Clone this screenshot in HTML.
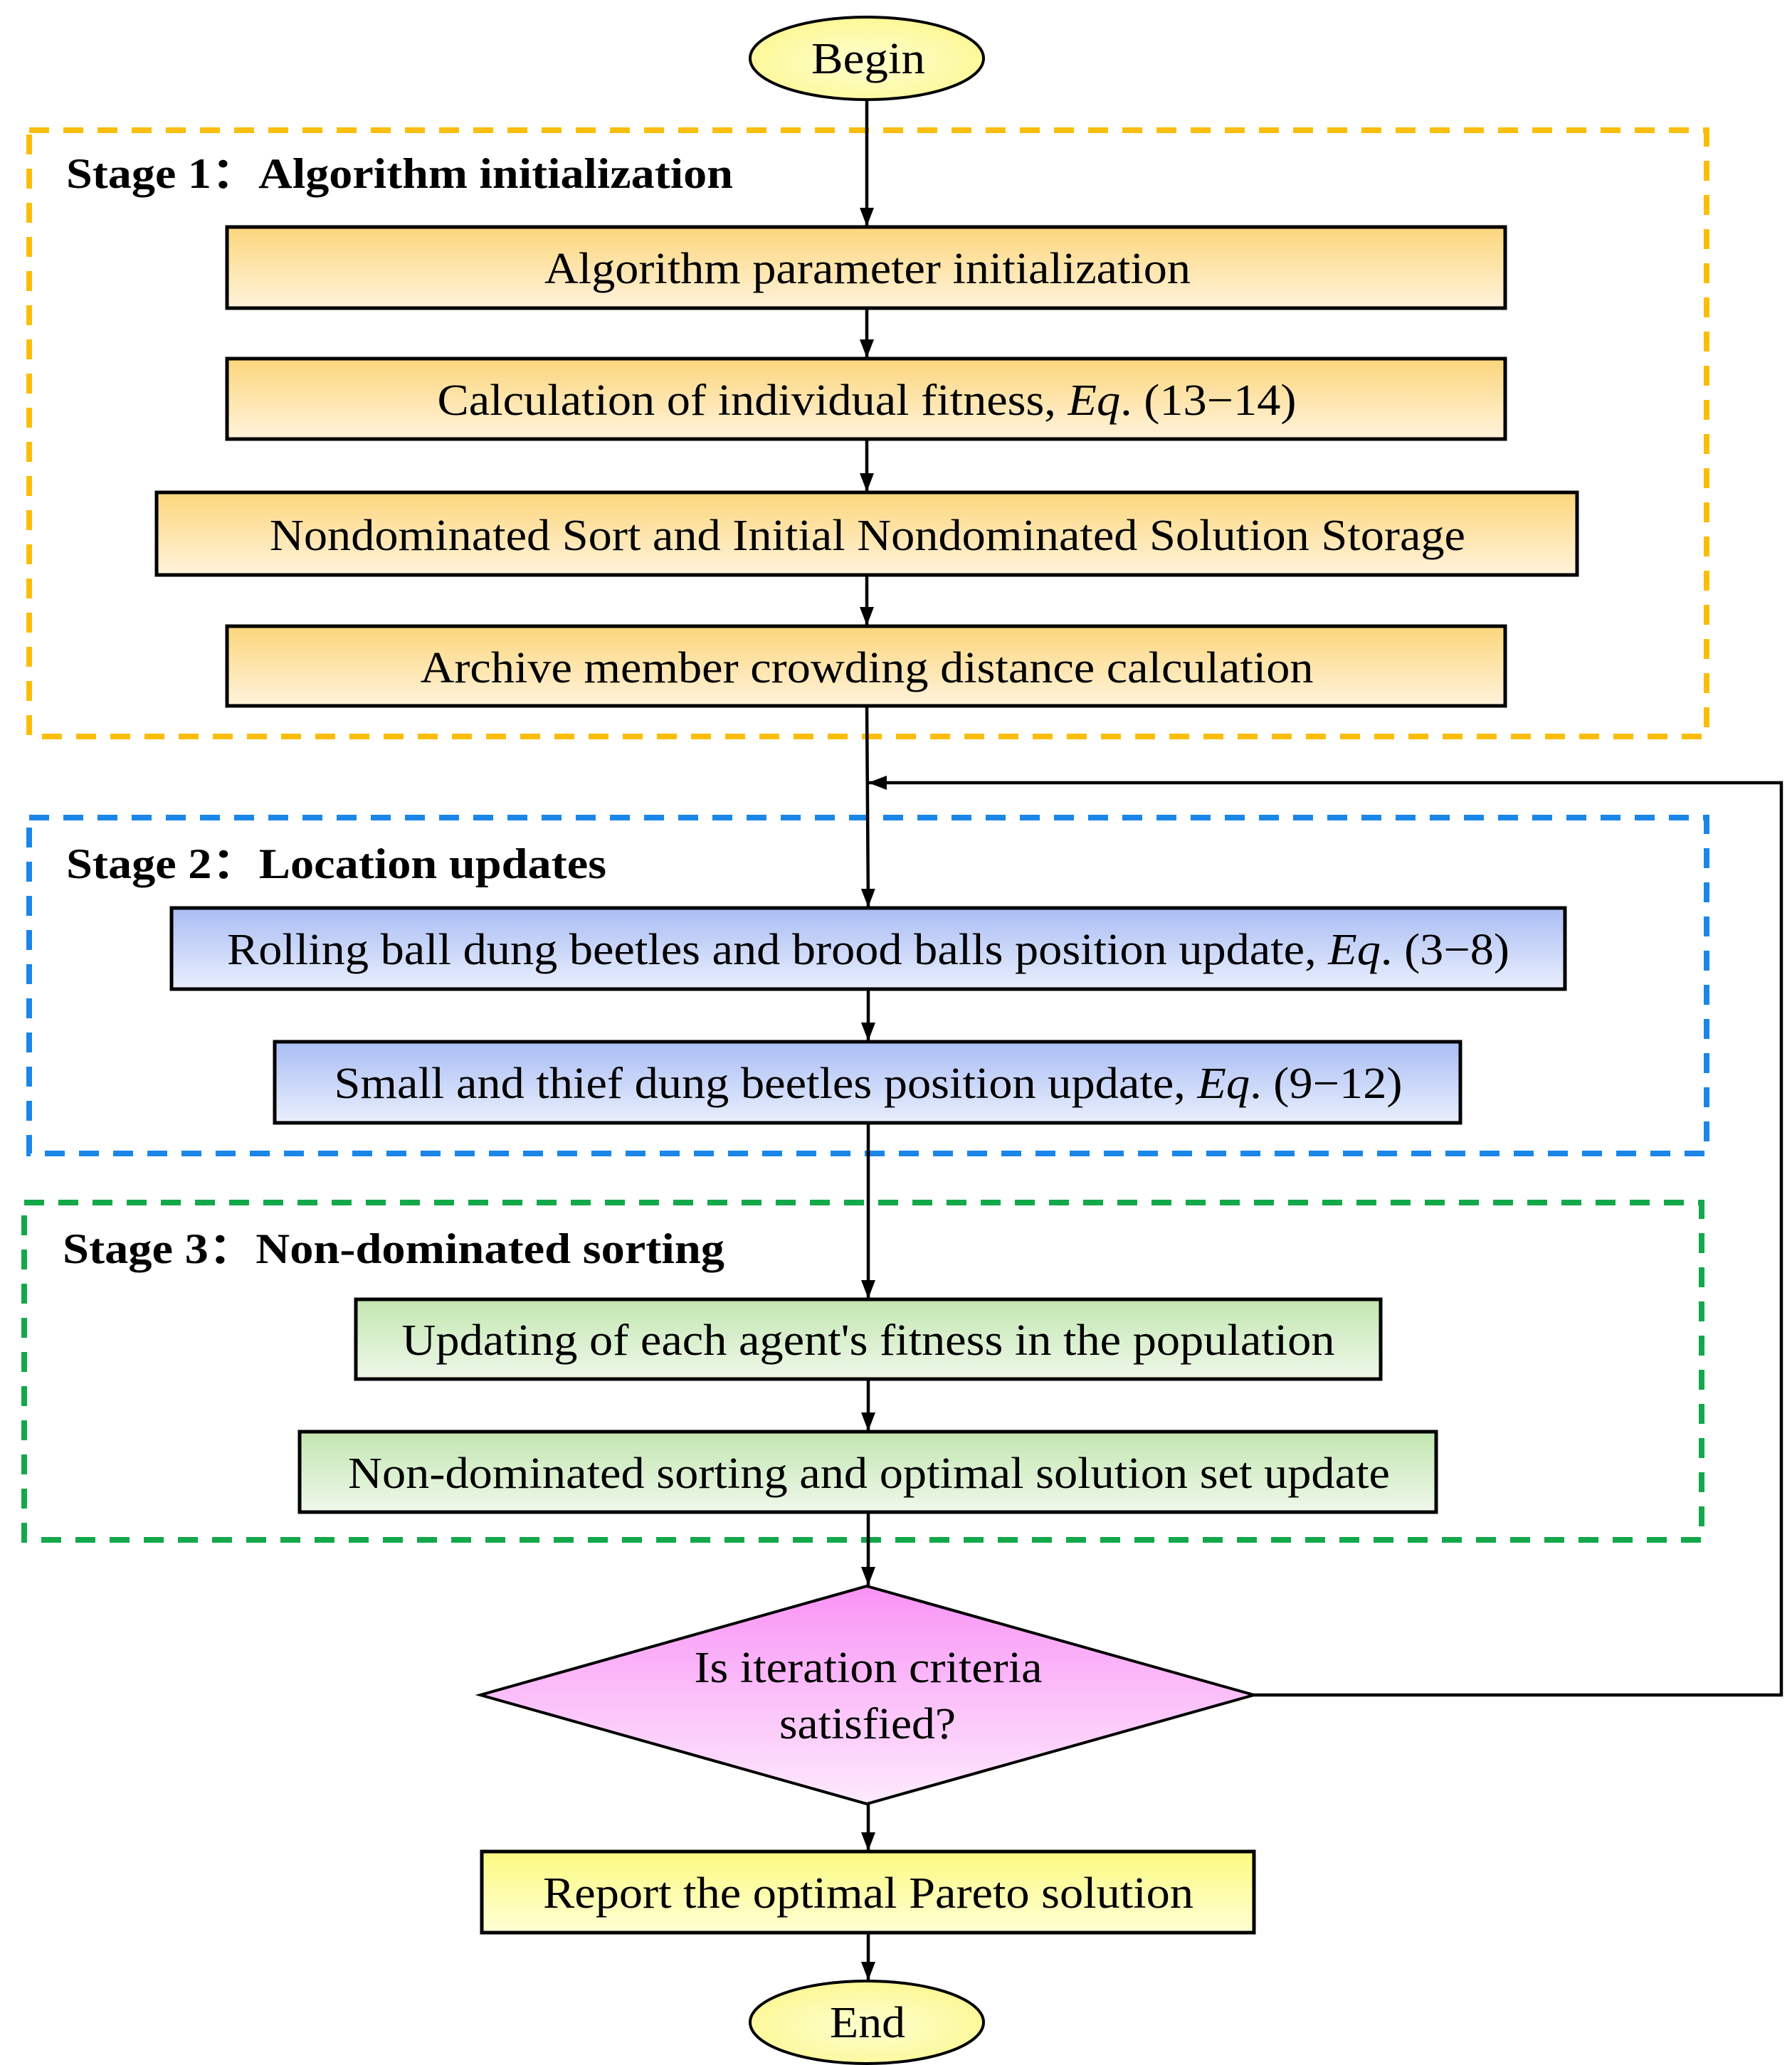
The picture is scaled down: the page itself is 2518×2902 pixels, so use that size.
<!DOCTYPE html>
<html><head><meta charset="utf-8"><style>
html,body{margin:0;padding:0;background:#fff;}
svg{display:block;}
text{font-family:"Liberation Serif",serif;fill:#000;}
</style></head><body>
<svg width="2518" height="2902" viewBox="0 0 2518 2902" xmlns="http://www.w3.org/2000/svg">
<defs>
<linearGradient id="gy" x1="0" y1="0" x2="0" y2="1"><stop offset="0" stop-color="#fcd67c"/><stop offset="1" stop-color="#fff3dc"/></linearGradient>
<linearGradient id="gb" x1="0" y1="0" x2="0" y2="1"><stop offset="0" stop-color="#aabdf4"/><stop offset="1" stop-color="#e9effd"/></linearGradient>
<linearGradient id="gg" x1="0" y1="0" x2="0" y2="1"><stop offset="0" stop-color="#c2e6b0"/><stop offset="1" stop-color="#eff8ea"/></linearGradient>
<linearGradient id="gp" x1="0" y1="0" x2="0" y2="1"><stop offset="0" stop-color="#f993f5"/><stop offset="1" stop-color="#fdeafd"/></linearGradient>
<linearGradient id="gl" x1="0" y1="0" x2="0" y2="1"><stop offset="0" stop-color="#fcfa80"/><stop offset="1" stop-color="#ffffd6"/></linearGradient>
<radialGradient id="ge" cx="0.5" cy="0.55" r="0.6"><stop offset="0" stop-color="#ffffd0"/><stop offset="1" stop-color="#fbf790"/></radialGradient>
<marker id="ar" markerWidth="26" markerHeight="20" refX="26" refY="10" orient="auto" markerUnits="userSpaceOnUse" viewBox="0 0 26 20"><path d="M0,0 L26,10 L0,20 z" fill="#000"/></marker>
</defs>
<style>
.ln{stroke:#000;stroke-width:4.5;fill:none;}
</style>

<rect x="41" y="183" width="2357" height="852" fill="none" stroke="#fbbd0b" stroke-width="8" stroke-dasharray="28 20"/>
<rect x="41" y="1149" width="2357" height="472" fill="none" stroke="#1a86e8" stroke-width="8" stroke-dasharray="28 20"/>
<rect x="34" y="1690" width="2357" height="474" fill="none" stroke="#13a84a" stroke-width="8" stroke-dasharray="28 20"/>

<text x="93" y="264" font-size="60" font-weight="bold" textLength="937" lengthAdjust="spacingAndGlyphs">Stage 1：Algorithm initialization</text>
<text x="93" y="1234" font-size="60" font-weight="bold" textLength="759" lengthAdjust="spacingAndGlyphs">Stage 2：Location updates</text>
<text x="88" y="1775" font-size="60" font-weight="bold" textLength="930" lengthAdjust="spacingAndGlyphs">Stage 3：Non-dominated sorting</text>

<g marker-end="url(#ar)">
<line class="ln" x1="1218" y1="140" x2="1218" y2="318"/>
<line class="ln" x1="1218" y1="433" x2="1218" y2="503"/>
<line class="ln" x1="1218" y1="617" x2="1218" y2="691"/>
<line class="ln" x1="1218" y1="808" x2="1218" y2="879"/>
<line class="ln" x1="1218" y1="992" x2="1220" y2="1275"/>
<line class="ln" x1="1220" y1="1390" x2="1220" y2="1463"/>
<line class="ln" x1="1220" y1="1578" x2="1220" y2="1825"/>
<line class="ln" x1="1220" y1="1938" x2="1220" y2="2011"/>
<line class="ln" x1="1220" y1="2125" x2="1220" y2="2228"/>
<line class="ln" x1="1220" y1="2535" x2="1220" y2="2601"/>
<line class="ln" x1="1220" y1="2716" x2="1220" y2="2783"/>
<polyline class="ln" points="1762,2382 2503,2382 2503,1100 1220,1100"/>
</g>

<ellipse cx="1218" cy="82" rx="164" ry="58" fill="url(#ge)" stroke="#000" stroke-width="4"/>
<text x="1220" y="103" font-size="62" text-anchor="middle" textLength="160" lengthAdjust="spacingAndGlyphs">Begin</text>

<rect x="319" y="319" width="1796" height="114" fill="url(#gy)" stroke="#000" stroke-width="5"/>
<text x="1219" y="398" font-size="62" text-anchor="middle" textLength="908" lengthAdjust="spacingAndGlyphs">Algorithm parameter initialization</text>
<rect x="319" y="504" width="1796" height="113" fill="url(#gy)" stroke="#000" stroke-width="5"/>
<text x="1218" y="583" font-size="62" text-anchor="middle" textLength="1207" lengthAdjust="spacingAndGlyphs">Calculation of individual fitness, <tspan font-style="italic">Eq</tspan>. (13−14)</text>
<rect x="220" y="692" width="1996" height="116" fill="url(#gy)" stroke="#000" stroke-width="5"/>
<text x="1219" y="773" font-size="62" text-anchor="middle" textLength="1680" lengthAdjust="spacingAndGlyphs">Nondominated Sort and Initial Nondominated Solution Storage</text>
<rect x="319" y="880" width="1796" height="112" fill="url(#gy)" stroke="#000" stroke-width="5"/>
<text x="1218" y="959" font-size="62" text-anchor="middle" textLength="1255" lengthAdjust="spacingAndGlyphs">Archive member crowding distance calculation</text>

<rect x="241" y="1276" width="1958" height="114" fill="url(#gb)" stroke="#000" stroke-width="5"/>
<text x="1220" y="1355" font-size="62" text-anchor="middle" textLength="1802" lengthAdjust="spacingAndGlyphs">Rolling ball dung beetles and brood balls position update, <tspan font-style="italic">Eq</tspan>. (3−8)</text>
<rect x="386" y="1464" width="1666" height="114" fill="url(#gb)" stroke="#000" stroke-width="5"/>
<text x="1220" y="1543" font-size="62" text-anchor="middle" textLength="1501" lengthAdjust="spacingAndGlyphs">Small and thief dung beetles position update, <tspan font-style="italic">Eq</tspan>. (9−12)</text>

<rect x="500" y="1826" width="1440" height="112" fill="url(#gg)" stroke="#000" stroke-width="5"/>
<text x="1220" y="1904" font-size="62" text-anchor="middle" textLength="1311" lengthAdjust="spacingAndGlyphs">Updating of each agent's fitness in the population</text>
<rect x="421" y="2012" width="1597" height="113" fill="url(#gg)" stroke="#000" stroke-width="5"/>
<text x="1221" y="2091" font-size="62" text-anchor="middle" textLength="1464" lengthAdjust="spacingAndGlyphs">Non-dominated sorting and optimal solution set update</text>

<polygon points="1218,2229 1762,2382 1218,2535 675,2382" fill="url(#gp)" stroke="#000" stroke-width="4"/>
<text x="1220" y="2364" font-size="62" text-anchor="middle" textLength="489" lengthAdjust="spacingAndGlyphs">Is iteration criteria</text>
<text x="1219" y="2443" font-size="62" text-anchor="middle" textLength="248" lengthAdjust="spacingAndGlyphs">satisfied?</text>

<rect x="677" y="2602" width="1085" height="114" fill="url(#gl)" stroke="#000" stroke-width="5"/>
<text x="1220" y="2681" font-size="62" text-anchor="middle" textLength="914" lengthAdjust="spacingAndGlyphs">Report the optimal Pareto solution</text>

<ellipse cx="1218" cy="2842" rx="164" ry="58" fill="url(#ge)" stroke="#000" stroke-width="4"/>
<text x="1219" y="2863" font-size="62" text-anchor="middle" textLength="106" lengthAdjust="spacingAndGlyphs">End</text>
</svg>
</body></html>
